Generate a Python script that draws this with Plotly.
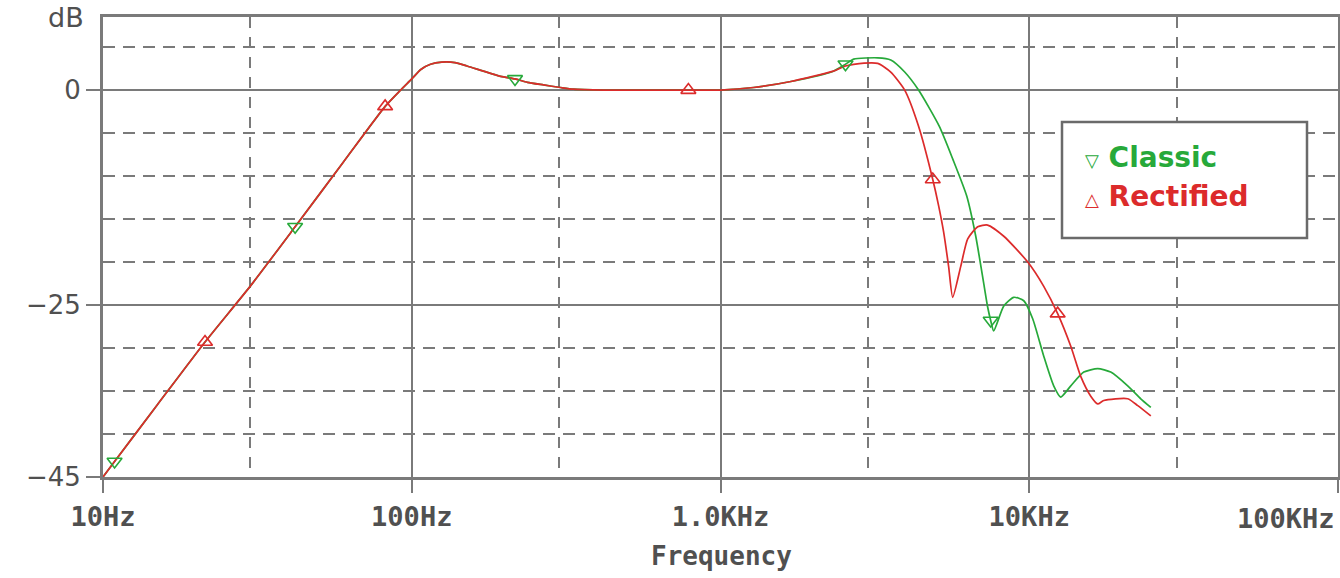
import plotly.graph_objects as go

# Frequency response (dB) of two filter variants, shared passband below ~2.3 kHz
common_hz = [10, 10.9, 15, 21.4, 30, 41.9, 60, 82, 92, 100, 107, 115, 125, 138, 151, 194,
             216, 237, 267, 303, 334, 420, 787, 1000, 1280, 1690, 2320]
common_db = [-45, -43.2, -36.6, -29.3, -22.8, -15.9, -8.4, -1.9, 0.0, 1.3, 2.4, 3.0, 3.25,
             3.2, 2.8, 1.6, 1.3, 0.9, 0.6, 0.3, 0.1, 0.0, 0.0, 0.0, 0.3, 1.0, 2.2]

classic_tail_hz = [2540, 2700, 3230, 3560, 3950, 4380, 5110, 5650, 6270, 6710, 7130,
                   7330, 7500, 7670, 8270, 8910, 9600, 10260, 11130, 12000, 12640, 13630,
                   15020, 16670, 18360, 20840, 22970, 24760]
classic_tail_db = [3.0, 3.6, 3.75, 3.5, 2.1, 0.0, -4.2, -8.0, -12.3, -17.0, -22.6,
                   -25.2, -26.8, -28.0, -25.1, -24.1, -24.5, -26.6, -30.9, -34.4, -35.7,
                   -34.4, -32.8, -32.4, -32.8, -34.4, -35.9, -36.9]

rectified_tail_hz = [2540, 2700, 3230, 3560, 3950, 4380, 4870, 5090, 5280, 5480, 5650, 6000,
                     6320, 6810, 7330, 8270, 9890, 11130, 12360, 13630, 14680, 15820, 16670,
                     17430, 20840, 22470, 24760]
rectified_tail_db = [2.8, 3.0, 3.1, 2.1, 0.0, -4.2, -10.4, -13.5, -16.5, -20.5, -24.1, -20.5,
                     -17.3, -15.9, -15.7, -17.0, -20.0, -22.8, -26.0, -29.8, -33.3, -35.6,
                     -36.5, -36.1, -35.9, -36.7, -37.9]

# Frequencies where the probe symbols sit on each trace
classic_marker_hz = [10.9, 41.9, 216, 2540, 7500]
rectified_marker_hz = [21.4, 82, 787, 4870, 12360]

x_ticks_hz = [10, 100, 1000, 10000, 100000]
x_tick_text = ["10Hz", "100Hz", "1.0KHz", "10KHz", ""]
x_minor_hz = [30, 300, 3000, 30000]
y_ticks = [-45, -25, 0]
y_tick_text = ["\u221245", "\u221225", "0"]

GREEN = "#27a93a"
RED = "#dc2b2b"
GRID = "#7a7a7a"
TEXT = "#505050"

classic_hz = common_hz + classic_tail_hz
classic_db = common_db + classic_tail_db
rectified_hz = common_hz + rectified_tail_hz
rectified_db = common_db + rectified_tail_db


def pick(hz, db, wanted):
    lookup = dict(zip(hz, db))
    return wanted, [lookup[f] for f in wanted]


fig = go.Figure()

fig.add_trace(go.Scatter(x=classic_hz, y=classic_db, mode="lines", name="Classic",
                         line=dict(color=GREEN, width=1.7, shape="spline", smoothing=0.6),
                         showlegend=False))
fig.add_trace(go.Scatter(x=rectified_hz, y=rectified_db, mode="lines", name="Rectified",
                         line=dict(color=RED, width=1.7, shape="spline", smoothing=0.6),
                         showlegend=False))

mx, my = pick(classic_hz, classic_db, classic_marker_hz)
fig.add_trace(go.Scatter(x=mx, y=my, mode="markers", showlegend=False,
                         marker=dict(symbol="triangle-down-open", size=13, color=GREEN,
                                     line=dict(width=1.6, color=GREEN))))
mx, my = pick(rectified_hz, rectified_db, rectified_marker_hz)
fig.add_trace(go.Scatter(x=mx, y=my, mode="markers", showlegend=False,
                         marker=dict(symbol="triangle-up-open", size=13, color=RED,
                                     line=dict(width=1.6, color=RED))))

# plot area in pixels: x 103..1338, y 17..477
L, R, T, B = 103, 1338, 17, 477


def px(x):
    return (x - L) / (R - L)


def py(y):
    return (B - y) / (B - T)


fig.update_layout(
    width=1340, height=578,
    margin=dict(l=L, r=1340 - R, t=T, b=578 - B),
    paper_bgcolor="white", plot_bgcolor="white",
    showlegend=False,
    xaxis=dict(
        type="log", range=[1, 5], autorange=False,
        tickvals=x_ticks_hz, ticktext=x_tick_text,
        tickfont=dict(family="DejaVu Sans Mono", size=27, color=TEXT, weight="bold"),
        ticks="outside", ticklen=13, tickwidth=2, tickcolor=GRID,
        ticklabelstandoff=1,
        showgrid=True, gridcolor=GRID, gridwidth=2,
        minor=dict(tickmode="array", tickvals=x_minor_hz, showgrid=True,
                   gridcolor=GRID, gridwidth=2, griddash="11px,9px", ticks=""),
        showline=True, linecolor=GRID, linewidth=3, mirror=True,
        zeroline=False, automargin=False,
    ),
    yaxis=dict(
        range=[-45, 8.5], autorange=False,
        tickvals=y_ticks, ticktext=y_tick_text,
        tickfont=dict(family="DejaVu Sans", size=26, color=TEXT),
        ticks="outside", ticklen=14, tickwidth=2, tickcolor=GRID,
        showgrid=True, gridcolor=GRID, gridwidth=2,
        minor=dict(dtick=5, tick0=0, showgrid=True, gridcolor=GRID, gridwidth=2,
                   griddash="12px,8px", ticks=""),
        showline=True, linecolor=GRID, linewidth=3, mirror=True,
        zeroline=False, automargin=False,
    ),
)

# legend box
fig.add_shape(type="rect", xref="paper", yref="paper",
              x0=px(1062), x1=px(1307), y0=py(238), y1=py(122),
              fillcolor="white", line=dict(color="#6a6a6a", width=2.5), layer="above")

annotations = [
    dict(text="dB", x=px(86), y=py(18), xanchor="right", yanchor="middle",
         font=dict(family="DejaVu Sans", size=27, color=TEXT)),
    dict(text="100KHz", x=px(1337), y=py(518), xanchor="right", yanchor="middle",
         font=dict(family="DejaVu Sans Mono", size=27, color=TEXT, weight="bold")),
    dict(text="Frequency", x=px(721), y=py(556), xanchor="center", yanchor="middle",
         font=dict(family="DejaVu Sans Mono", size=26, color=TEXT, weight="bold")),
    dict(text='<span style="font-size:18px">\u25bd</span> Classic',
         x=px(1083), y=py(157), xanchor="left", yanchor="middle",
         font=dict(family="DejaVu Sans", size=28, color=GREEN, weight="bold")),
    dict(text='<span style="font-size:18px">\u25b3</span> Rectified',
         x=px(1083), y=py(197), xanchor="left", yanchor="middle",
         font=dict(family="DejaVu Sans", size=28, color=RED, weight="bold")),
]
for a in annotations:
    fig.add_annotation(xref="paper", yref="paper", showarrow=False, **a)

fig.write_html("out.html", config={"displayModeBar": False})
